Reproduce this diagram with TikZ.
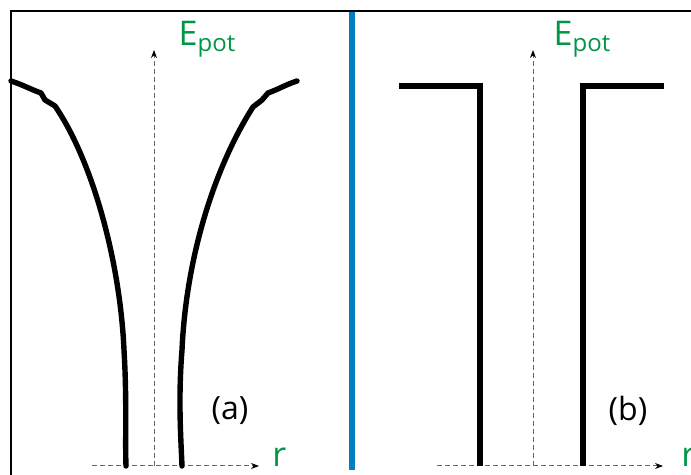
\documentclass[tikz,border=0pt]{standalone}
\usepackage{fontspec}
\setmainfont{Open Sans}
\usepackage{xcolor}
\usetikzlibrary{positioning,arrows.meta,calc}
\definecolor{labgreen}{RGB}{0,150,70}
\definecolor{sepblue}{RGB}{0,125,195}

\begin{document}
\begin{tikzpicture}[x=0.5pt, y=-0.5pt, >=Stealth,
  axis/.style={draw=black!60, line width=0.5pt, dash pattern=on 2.5pt off 1.5pt},
  pot/.style={line width=2.7pt, line cap=round, line join=round},
  wall/.style={line width=3.2pt, line join=miter},
  axlab/.style={text=labgreen, font=\fontsize{17}{19}\selectfont, inner sep=0pt},
  tag/.style={font=\fontsize{16}{18}\selectfont, inner sep=0pt}]
  \useasboundingbox (0,0) rectangle (691,475);
  \def\yb{466}
  % frame and separator
  \draw[line width=1pt] (11,475) -- (11,11) -- (691,11);
  \draw[sepblue, line width=2.6pt] (352,12) -- (352,470);
  % (a) smooth potential
  \coordinate (oa) at (154,\yb);
  \coordinate (ya) at (154,50);
  \coordinate (xa0) at (92,\yb);
  \coordinate (xa1) at (259,\yb);
  \draw[axis, -{Stealth[length=4pt,width=3pt,black]}] (oa) -- (ya);
  \draw[axis, -{Stealth[length=4pt,width=3pt,black]}] (xa0) -- (xa1);
  \node[axlab] (ea) at (207,39) {E\raisebox{-0.35ex}{\fontsize{12}{13}\selectfont pot}};
  \node[axlab, anchor=west] (ra) at (272,457) {r};
  \node[tag] (ta) at (230,411) {(a)};
  \draw[pot] (11,81) to[out=-18,in=160] (41,93) -- (45,100) -- (55,106)
    .. controls (92,160) and (120,260) .. (124,350)
    .. controls (127,400) and (125,440) .. (126,\yb);
  \draw[pot] (297,81) to[out=198,in=20] (268,93) -- (262,100) -- (253,107)
    .. controls (213,170) and (186,260) .. (182,350)
    .. controls (178,400) and (181,440) .. (182,\yb);
  % (b) square well
  \coordinate (ob) at (533,\yb);
  \coordinate (yb) at (533,50);
  \coordinate (xb0) at (437,\yb);
  \coordinate (xb1) at (663,\yb);
  \draw[axis, -{Stealth[length=4pt,width=3pt,black]}] (ob) -- (yb);
  \draw[axis, -{Stealth[length=4pt,width=3pt,black]}] (xb0) -- (xb1);
  \node[axlab] (eb) at (582,39) {E\raisebox{-0.35ex}{\fontsize{12}{13}\selectfont pot}};
  \node[axlab, anchor=west] (rb) at (681,457) {r};
  \node[tag] (tb) at (628,411) {(b)};
  \draw[wall] (399,86) -- (480,86) -- (480,\yb);
  \draw[wall] (583,\yb) -- (583,86) -- (664,86);
\end{tikzpicture}
\end{document}
